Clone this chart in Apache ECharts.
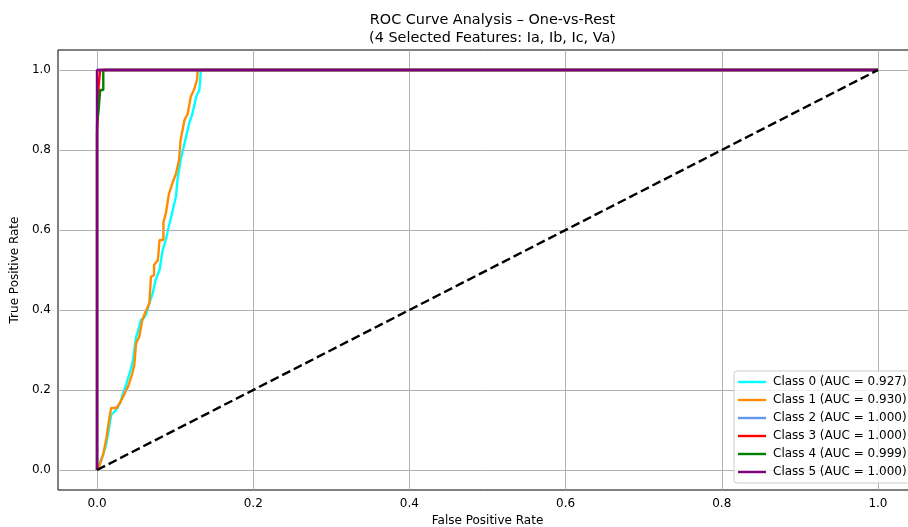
<!DOCTYPE html>
<html>
<head>
<meta charset="utf-8">
<script src="https://cdn.jsdelivr.net/npm/echarts@6/dist/echarts.min.js"></script>
<style>html,body{margin:0;padding:0;background:#fff}#c{width:908px;height:527px}</style>
</head>
<body>
<div id="c"></div>
<script>
const titleLines = ["ROC Curve Analysis \u2013 One-vs-Rest", "(4 Selected Features: Ia, Ib, Ic, Va)"];
const xAxisName = "False Positive Rate";
const yAxisName = "True Positive Rate";
const xTicks = [0.0, 0.2, 0.4, 0.6, 0.8, 1.0];
const yTicks = [0.0, 0.2, 0.4, 0.6, 0.8, 1.0];
const classNames = ["Class 0 (AUC = 0.927)", "Class 1 (AUC = 0.930)", "Class 2 (AUC = 1.000)", "Class 3 (AUC = 1.000)", "Class 4 (AUC = 0.999)", "Class 5 (AUC = 1.000)"];
const classColors = ["#00ffff", "#ff8c00", "#6495ed", "#ff0000", "#008000", "#800080"];

const fpr0 = [0, 0.004, 0.008, 0.0115, 0.015, 0.018, 0.022, 0.026, 0.03, 0.033, 0.037, 0.041, 0.043, 0.046, 0.050, 0.053, 0.056, 0.06, 0.063, 0.067, 0.071, 0.075, 0.078, 0.080, 0.082, 0.084, 0.088, 0.092, 0.097, 0.101, 0.103, 0.107, 0.110, 0.114, 0.118, 0.122, 0.127, 0.131, 0.133, 1.0];
const tpr0 = [0, 0.02, 0.04, 0.0625, 0.10, 0.1375, 0.145, 0.155, 0.17, 0.19, 0.2125, 0.2375, 0.25, 0.275, 0.333, 0.35, 0.375, 0.38, 0.39, 0.417, 0.44, 0.475, 0.49, 0.5, 0.525, 0.55, 0.575, 0.61, 0.65, 0.683, 0.725, 0.775, 0.80, 0.833, 0.867, 0.89, 0.933, 0.95, 1.0, 1.0];
const fpr1 = [0, 0.003, 0.008, 0.012, 0.015, 0.018, 0.025, 0.03, 0.035, 0.04, 0.045, 0.0477, 0.050, 0.054, 0.058, 0.063, 0.067, 0.069, 0.073, 0.073, 0.078, 0.080, 0.085, 0.085, 0.088, 0.092, 0.097, 0.101, 0.105, 0.107, 0.112, 0.116, 0.12, 0.124, 0.128, 0.129, 1.0];
const tpr1 = [0, 0.01, 0.04, 0.08, 0.12, 0.155, 0.155, 0.17, 0.19, 0.21, 0.24, 0.2625, 0.317, 0.333, 0.375, 0.40, 0.417, 0.483, 0.487, 0.5125, 0.525, 0.575, 0.575, 0.62, 0.64, 0.69, 0.72, 0.74, 0.775, 0.825, 0.875, 0.89, 0.933, 0.95, 0.975, 1.0, 1.0];
const fpr2 = [0, 0, 1];
const tpr2 = [0, 1, 1];
const fpr3 = [0, 0, 0.002, 0.002, 0.004, 0.004, 1];
const tpr3 = [0, 0.84, 0.84, 0.96, 0.96, 1, 1];
const fpr4 = [0, 0, 0.002, 0.002, 0.004, 0.004, 0.008, 0.008, 1];
const tpr4 = [0, 0.865, 0.865, 0.90, 0.90, 0.95, 0.95, 1, 1];
const fpr5 = [0, 0, 1];
const tpr5 = [0, 1, 1];
const diagX = [0, 1];
const diagY = [0, 1];

const allFpr = [fpr0, fpr1, fpr2, fpr3, fpr4, fpr5];
const allTpr = [tpr0, tpr1, tpr2, tpr3, tpr4, tpr5];
const zip = (a, b) => a.map((v, i) => [v, b[i]]);

const FONT = "DejaVu Sans";
const LEGEND_ICON = 'path://M0,0 L0,0 M0,4.8 L28,4.8 L28,7.2 L0,7.2 Z M28,12 L28,12';
const chart = echarts.init(document.getElementById('c'), null, {renderer: 'canvas'});

const series = [];
series.push({
  type: 'line', data: [], silent: true, z: 1,
  markLine: {
    silent: true, symbol: ['none', 'none'], animation: false,
    label: {show: false},
    lineStyle: {color: '#b0b0b0', width: 1, type: 'solid'},
    data: xTicks.map(v => ({xAxis: v})).concat(yTicks.map(v => ({yAxis: v})))
  }
});
classNames.forEach((name, i) => {
  series.push({
    name: name, type: 'line', data: zip(allFpr[i], allTpr[i]),
    symbol: 'none', showSymbol: false, z: 2 + i,
    lineStyle: {color: classColors[i], width: 2.4},
    itemStyle: {color: classColors[i]},
    animation: false
  });
});
series.push({
  type: 'line', data: zip(diagX, diagY), symbol: 'none', z: 10,
  lineStyle: {color: '#000', width: 2.4, type: [9, 4]},
  animation: false
});

chart.setOption({
  backgroundColor: '#fff',
  animation: false,
  title: {
    text: titleLines.join('\n'),
    left: 487.5, top: 6, textAlign: 'center',
    textStyle: {fontFamily: FONT, fontSize: 14.4, fontWeight: 'normal', color: '#000', lineHeight: 18}
  },
  grid: {left: 58, top: 50, width: 859, height: 440, outerBoundsMode: 'none', containLabel: false, show: true, borderColor: '#000', borderWidth: 1, backgroundColor: 'transparent'},
  xAxis: {
    type: 'value', min: -0.05, max: 1.05,
    name: xAxisName, nameLocation: 'middle', nameGap: 24,
    nameTextStyle: {fontFamily: FONT, fontSize: 12, color: '#000'},
    axisLine: {show: false},
    splitLine: {show: false},
    axisTick: {show: true, customValues: xTicks, length: 4, lineStyle: {color: '#000', width: 1}},
    axisLabel: {customValues: xTicks, formatter: v => v.toFixed(1), fontFamily: FONT, fontSize: 12, color: '#000', margin: 8}
  },
  yAxis: {
    type: 'value', min: -0.05, max: 1.05,
    name: yAxisName, nameLocation: 'middle', nameGap: 30,
    nameTextStyle: {fontFamily: FONT, fontSize: 12, color: '#000'},
    axisLine: {show: false},
    splitLine: {show: false},
    axisTick: {show: true, customValues: yTicks, length: 4, lineStyle: {color: '#000', width: 1}},
    axisLabel: {customValues: yTicks, formatter: v => v.toFixed(1), fontFamily: FONT, fontSize: 12, color: '#000', margin: 7}
  },
  legend: {
    data: classNames.map(n => ({name: n, icon: LEGEND_ICON})),
    orient: 'vertical', left: 734, top: 371, z: 50, zlevel: 0,
    padding: [5, 4, 5, 4],
    itemWidth: 28, itemHeight: 12, itemGap: 6,
    backgroundColor: 'rgba(255,255,255,0.8)', borderColor: '#cccccc', borderWidth: 1, borderRadius: 3,
    textStyle: {fontFamily: FONT, fontSize: 12, color: '#000', padding: [0, 0, 0, 2]}
  },
  series: series
});
</script>
</body>
</html>
